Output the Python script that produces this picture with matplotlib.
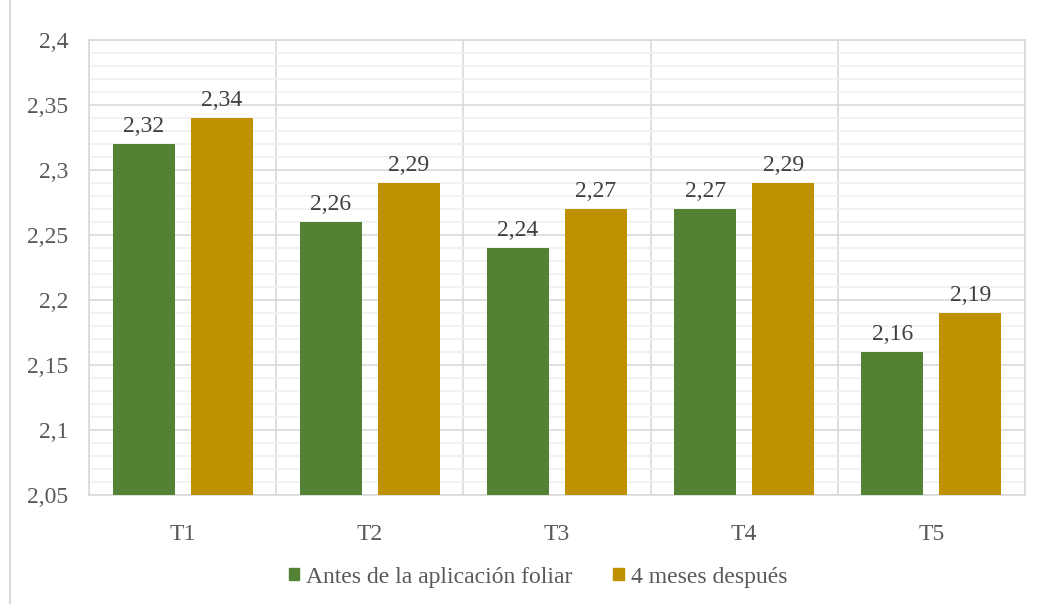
import matplotlib
matplotlib.use("Agg")
import matplotlib.pyplot as plt
import numpy as np
from matplotlib.ticker import MultipleLocator, FixedLocator
from matplotlib.lines import Line2D

plt.rcParams['font.family'] = ['Liberation Serif', 'DejaVu Serif']

categories = ["T1", "T2", "T3", "T4", "T5"]
antes = [2.32, 2.26, 2.24, 2.27, 2.16]
despues = [2.34, 2.29, 2.27, 2.29, 2.19]
series_names = ["Antes de la aplicación foliar", "4 meses después"]
colors = ["#548235", "#BF9000"]
yticks = [2.05, 2.1, 2.15, 2.2, 2.25, 2.3, 2.35, 2.4]

fig = plt.figure(figsize=(10.4, 6.04), dpi=100)
ax = fig.add_axes([89/1040, 1 - 495/604, (1025-89)/1040, (495-40)/604])

x = np.arange(len(categories))
w = 0.331
off = 0.208
b1 = ax.bar(x - off, np.array(antes) - 2.05, w, bottom=2.05, color=colors[0], zorder=3, label=series_names[0])
b2 = ax.bar(x + off, np.array(despues) - 2.05, w, bottom=2.05, color=colors[1], zorder=3, label=series_names[1])

for bars, vals in ((b1, antes), (b2, despues)):
    for r, v in zip(bars, vals):
        ax.annotate(f"{v:.2f}".replace(".", ","), (r.get_x() + r.get_width()/2, v),
                    xytext=(0, 5), textcoords="offset points", ha="center", va="bottom",
                    fontsize=17, color="#404040")

ax.set_xlim(-0.5, len(categories) - 0.5)
ax.set_ylim(2.05, 2.4)
ax.yaxis.set_major_locator(FixedLocator(yticks))
ax.yaxis.set_minor_locator(MultipleLocator(0.01))
ax.set_yticklabels([("%g" % t).replace(".", ",") for t in yticks])
ax.set_xticks(x)
ax.set_xticklabels(categories)
ax.xaxis.set_minor_locator(FixedLocator(np.arange(-0.5, len(categories), 1.0)))

ax.grid(which="minor", axis="y", color="#f0f0f0", linewidth=1.2, zorder=0)
ax.grid(which="major", axis="y", color="#d9d9d9", linewidth=1.2, zorder=1)
ax.grid(which="minor", axis="x", color="#d9d9d9", linewidth=1.2, zorder=1)
ax.tick_params(which="both", length=0)
ax.tick_params(axis="y", labelsize=17, labelcolor="#595959", pad=15)
ax.tick_params(axis="x", labelsize=17, labelcolor="#595959", pad=21)
for s in ax.spines.values():
    s.set_color("#d9d9d9")
    s.set_linewidth(1.2)

fig.add_artist(Line2D([10/1040, 10/1040], [0, 1], color="#d9d9d9", linewidth=1.5))

handles = [plt.Rectangle((0, 0), 1, 1, color=c) for c in colors]
fig.legend(handles, series_names, loc="center", bbox_to_anchor=(538/1040, 1 - 577/604),
           ncol=2, frameon=False, fontsize=17, labelcolor="#595959",
           handlelength=0.45, handleheight=0.45, handletextpad=0.3, columnspacing=1.7)

fig.savefig("out.png", dpi=100)
